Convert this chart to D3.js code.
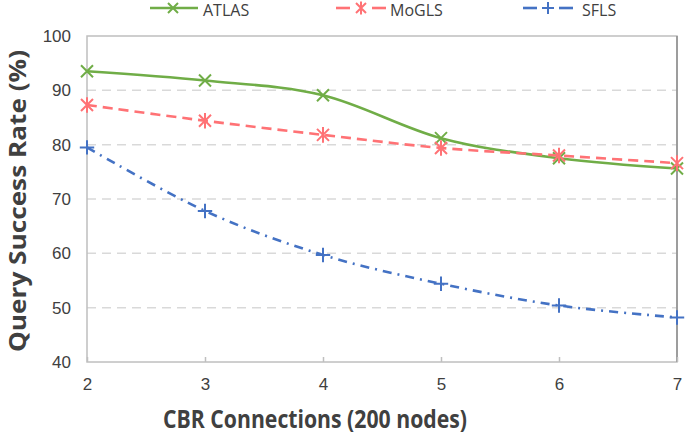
<!DOCTYPE html>
<html>
<head>
<meta charset="utf-8">
<script src="https://cdn.jsdelivr.net/npm/d3@7"></script>
<style>
  body { margin: 0; background: #fff; }
  svg { display: block; font-family: "Open Sans", "Liberation Sans", sans-serif; }
</style>
</head>
<body>
<div id="chart"></div>
<script>
// data
var connections = [2, 3, 4, 5, 6, 7];
var atlas = [93.5, 91.8, 89.1, 81.2, 77.5, 75.6];
var mogls = [87.3, 84.4, 81.8, 79.4, 78.0, 76.6];
var sfls = [79.5, 67.8, 59.7, 54.4, 50.4, 48.2];
var yTicks = [40, 50, 60, 70, 80, 90, 100];

var series = [
  {name: "ATLAS", values: atlas, color: "#70ad47", dash: null, marker: "x"},
  {name: "MoGLS", values: mogls, color: "#ff7275", dash: "10,6", marker: "star"},
  {name: "SFLS", values: sfls, color: "#4472c4", dash: "9,6,2,6", marker: "plus"}
];

var W = 685, H = 434;
var margin = {top: 36, right: 8, bottom: 72, left: 87};
var width = W - margin.left - margin.right,
    height = H - margin.top - margin.bottom;

var svg = d3.select("#chart").append("svg")
    .attr("width", W)
    .attr("height", H);

var x = d3.scaleLinear().domain([2, 7]).range([0, width]);
var y = d3.scaleLinear().domain([40, 100]).range([height, 0]);

var g = svg.append("g")
    .attr("transform", "translate(" + margin.left + "," + margin.top + ")");

// dashed grid lines
g.selectAll("line.grid")
  .data(yTicks.slice(1, -1))
  .enter().append("line")
  .attr("class", "grid")
  .attr("x1", 0).attr("x2", width)
  .attr("y1", function(d) { return y(d); })
  .attr("y2", function(d) { return y(d); })
  .attr("stroke", "#d9d9d9")
  .attr("stroke-width", 1.5)
  .attr("stroke-dasharray", "9,6");

// plot frame
g.append("rect")
  .attr("x", 0).attr("y", 0)
  .attr("width", width).attr("height", height)
  .attr("fill", "none")
  .attr("stroke", "#bfbfbf")
  .attr("stroke-width", 1.5);
g.append("line")
  .attr("x1", width).attr("x2", width)
  .attr("y1", 0).attr("y2", height)
  .attr("stroke", "#8c8c8c")
  .attr("stroke-width", 1.5);

// x axis ticks (inside) and labels
var xAxis = g.append("g")
  .attr("transform", "translate(0," + height + ")")
  .call(d3.axisBottom(x).tickValues(connections).tickFormat(d3.format("d"))
        .tickSizeInner(-5).tickSizeOuter(0).tickPadding(16));
xAxis.select(".domain").remove();
xAxis.selectAll(".tick line").attr("stroke", "#bfbfbf").attr("stroke-width", 1.5);
xAxis.selectAll(".tick text")
  .attr("font-size", "17px")
  .attr("fill", "#404040");

var yAxis = g.append("g")
  .call(d3.axisLeft(y).tickValues(yTicks).tickSize(0).tickPadding(16));
yAxis.select(".domain").remove();
yAxis.selectAll(".tick text")
  .attr("font-size", "17px")
  .attr("fill", "#404040");

// lines
var line = d3.line()
  .x(function(d, i) { return x(connections[i]); })
  .y(function(d) { return y(d); })
  .curve(d3.curveCatmullRom.alpha(0));

function markerPath(type, s) {
  var p = d3.path();
  if (type === "x" || type === "star") {
    p.moveTo(-s, -s); p.lineTo(s, s);
    p.moveTo(-s, s); p.lineTo(s, -s);
  }
  if (type === "star") {
    p.moveTo(0, -s * 1.3); p.lineTo(0, s * 1.3);
  }
  if (type === "plus") {
    p.moveTo(-s * 1.2, 0); p.lineTo(s * 1.2, 0);
    p.moveTo(0, -s * 1.2); p.lineTo(0, s * 1.2);
  }
  return p.toString();
}

series.forEach(function(s) {
  g.append("path")
    .attr("d", line(s.values))
    .attr("fill", "none")
    .attr("stroke", s.color)
    .attr("stroke-width", 2.6)
    .attr("stroke-dasharray", s.dash);
  g.selectAll(null)
    .data(s.values)
    .enter().append("path")
    .attr("transform", function(d, i) { return "translate(" + x(connections[i]) + "," + y(d) + ")"; })
    .attr("d", markerPath(s.marker, 6))
    .attr("fill", "none")
    .attr("stroke", s.color)
    .attr("stroke-width", 2);
});

// legend
var legendX = [150, 336, 523];
var legendTextX = [53, 54, 59];
series.forEach(function(s, i) {
  var lg = svg.append("g").attr("transform", "translate(" + legendX[i] + ",8)");
  var segs = s.dash ? [[0, 14], [36, 50]] : [[0, 48]];
  segs.forEach(function(sg) {
    lg.append("line")
      .attr("x1", sg[0]).attr("x2", sg[1])
      .attr("y1", 0).attr("y2", 0)
      .attr("stroke", s.color)
      .attr("stroke-width", 2.6);
  });
  lg.append("path")
    .attr("transform", "translate(" + (s.dash ? 25 : 23) + ",0)")
    .attr("d", markerPath(s.marker, 5))
    .attr("fill", "none")
    .attr("stroke", s.color)
    .attr("stroke-width", 2);
  lg.append("text")
    .attr("x", legendTextX[i])
    .attr("y", 8)
    .attr("font-size", "16px")
    .attr("fill", "#404040")
    .text(s.name);
});

// axis titles
svg.append("text")
  .attr("x", 315)
  .attr("y", 428)
  .attr("text-anchor", "middle")
  .attr("font-size", "25px")
  .attr("font-weight", "bold")
  .attr("fill", "#404040")
  .attr("textLength", 304)
  .attr("lengthAdjust", "spacingAndGlyphs")
  .text("CBR Connections (200 nodes)");

svg.append("text")
  .attr("transform", "translate(26,201) rotate(-90)")
  .attr("text-anchor", "middle")
  .attr("font-size", "24px")
  .attr("font-weight", "bold")
  .attr("fill", "#404040")
  .attr("textLength", 302)
  .attr("lengthAdjust", "spacingAndGlyphs")
  .text("Query Success Rate (%)");
</script>
</body>
</html>
